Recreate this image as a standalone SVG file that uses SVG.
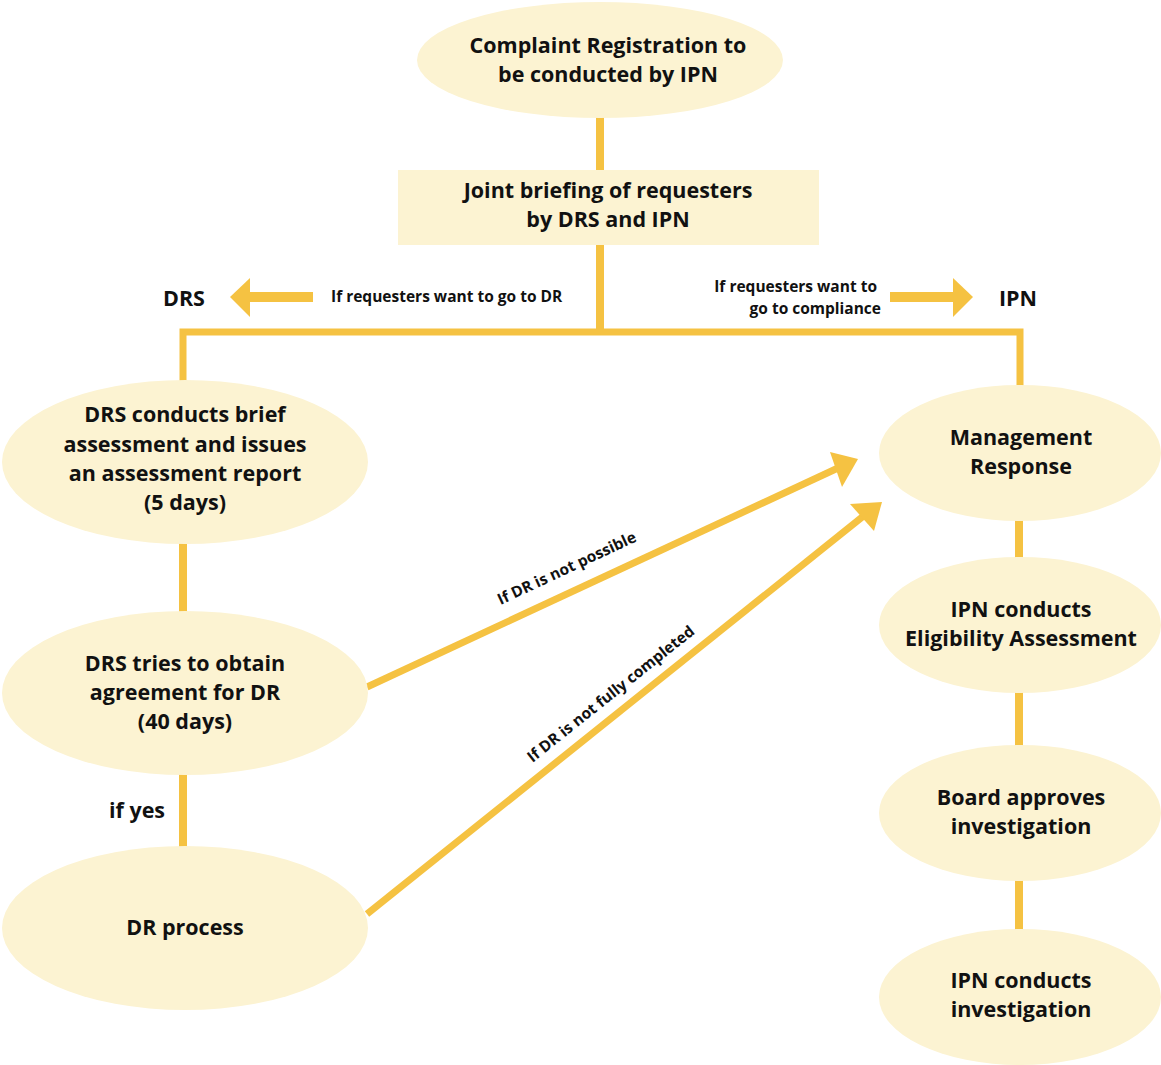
<svg xmlns="http://www.w3.org/2000/svg" width="1161" height="1065" viewBox="0 0 1161 1065">
  <style>
    .node { fill: #FCF3D2; stroke: none; }
    .t { font-family: "Open Sans", "Noto Sans", sans-serif; font-weight: 700; font-size: 21.5px; fill: #111; text-anchor: middle; }
    .s { font-family: "Open Sans", "Noto Sans", sans-serif; font-weight: 700; font-size: 15.5px; fill: #111; }
    .conn { stroke: #F5C242; stroke-width: 8; fill: none; }
    .thin { stroke: #F5C242; stroke-width: 7; fill: none; }
    .head { fill: #F5C242; }
  </style>
  <rect width="1161" height="1065" fill="#ffffff"/>

  <!-- connectors -->
  <g id="connectors">
    <line class="conn" x1="600" y1="115" x2="600" y2="172"/>
    <line class="conn" x1="600" y1="243" x2="600" y2="330"/>
    <polyline class="thin" points="183,385 183,332 1020,332 1020,390"/>
    <line class="conn" x1="183" y1="540" x2="183" y2="616"/>
    <line class="conn" x1="183" y1="772" x2="183" y2="850"/>
    <line class="conn" x1="1019" y1="518" x2="1019" y2="560"/>
    <line class="conn" x1="1019" y1="690" x2="1019" y2="748"/>
    <line class="conn" x1="1019" y1="878" x2="1019" y2="932"/>

    <!-- side arrows -->
    <line x1="313" y1="297" x2="248" y2="297" stroke="#F5C242" stroke-width="10"/>
    <polygon class="head" points="230,297 250,278 250,317"/>
    <line x1="890" y1="297" x2="955" y2="297" stroke="#F5C242" stroke-width="10"/>
    <polygon class="head" points="973,297 953,278 953,317"/>

    <!-- diagonal arrows -->
    <line class="thin" x1="367" y1="687" x2="838" y2="468"/>
    <polygon class="head" points="858,459 842,487 830,452"/>
    <line class="thin" x1="367" y1="914" x2="866" y2="514"/>
    <polygon class="head" points="882,502 874,531 850,504"/>

    <text class="s" x="331" y="302">If requesters want to go to DR</text>
    <text class="s" x="877" y="292" text-anchor="end">If requesters want to</text>
    <text class="s" x="881" y="314" text-anchor="end">go to compliance</text>
    <text class="s" transform="translate(569,573) rotate(-25.1)" text-anchor="middle">If DR is not possible</text>
    <text class="s" transform="translate(614,698) rotate(-38.5)" text-anchor="middle">If DR is not fully completed</text>
    <text class="t" x="137" y="818">if yes</text>
  </g>

  <g id="side-labels">
    <text class="t" x="184" y="306">DRS</text>
    <text class="t" x="1018" y="306">IPN</text>
  </g>

  <g id="complaint-registration">
    <ellipse class="node" cx="600" cy="60" rx="183" ry="58"/>
    <text class="t" x="608" y="53">Complaint Registration to</text>
    <text class="t" x="608" y="82">be conducted by IPN</text>
  </g>

  <g id="joint-briefing">
    <rect class="node" x="398" y="170" width="421" height="75"/>
    <text class="t" x="608" y="198">Joint briefing of requesters</text>
    <text class="t" x="608" y="227">by DRS and IPN</text>
  </g>

  <g id="drs-assessment">
    <ellipse class="node" cx="185" cy="462" rx="183" ry="82"/>
    <text class="t" x="185" y="422">DRS conducts brief</text>
    <text class="t" x="185" y="452">assessment and issues</text>
    <text class="t" x="185" y="481">an assessment report</text>
    <text class="t" x="185" y="510">(5 days)</text>
  </g>

  <g id="drs-agreement">
    <ellipse class="node" cx="185" cy="693" rx="183" ry="82"/>
    <text class="t" x="185" y="671">DRS tries to obtain</text>
    <text class="t" x="185" y="700">agreement for DR</text>
    <text class="t" x="185" y="729">(40 days)</text>
  </g>

  <g id="dr-process">
    <ellipse class="node" cx="185" cy="928" rx="183" ry="82"/>
    <text class="t" x="185" y="935">DR process</text>
  </g>

  <g id="management-response">
    <ellipse class="node" cx="1020" cy="453" rx="141" ry="68"/>
    <text class="t" x="1021" y="445">Management</text>
    <text class="t" x="1021" y="474">Response</text>
  </g>

  <g id="eligibility-assessment">
    <ellipse class="node" cx="1020" cy="625" rx="141" ry="68"/>
    <text class="t" x="1021" y="617">IPN conducts</text>
    <text class="t" x="1021" y="646">Eligibility Assessment</text>
  </g>

  <g id="board-approval">
    <ellipse class="node" cx="1020" cy="813" rx="141" ry="68"/>
    <text class="t" x="1021" y="805">Board approves</text>
    <text class="t" x="1021" y="834">investigation</text>
  </g>

  <g id="ipn-investigation">
    <ellipse class="node" cx="1020" cy="997" rx="141" ry="68"/>
    <text class="t" x="1021" y="988">IPN conducts</text>
    <text class="t" x="1021" y="1017">investigation</text>
  </g>
</svg>
